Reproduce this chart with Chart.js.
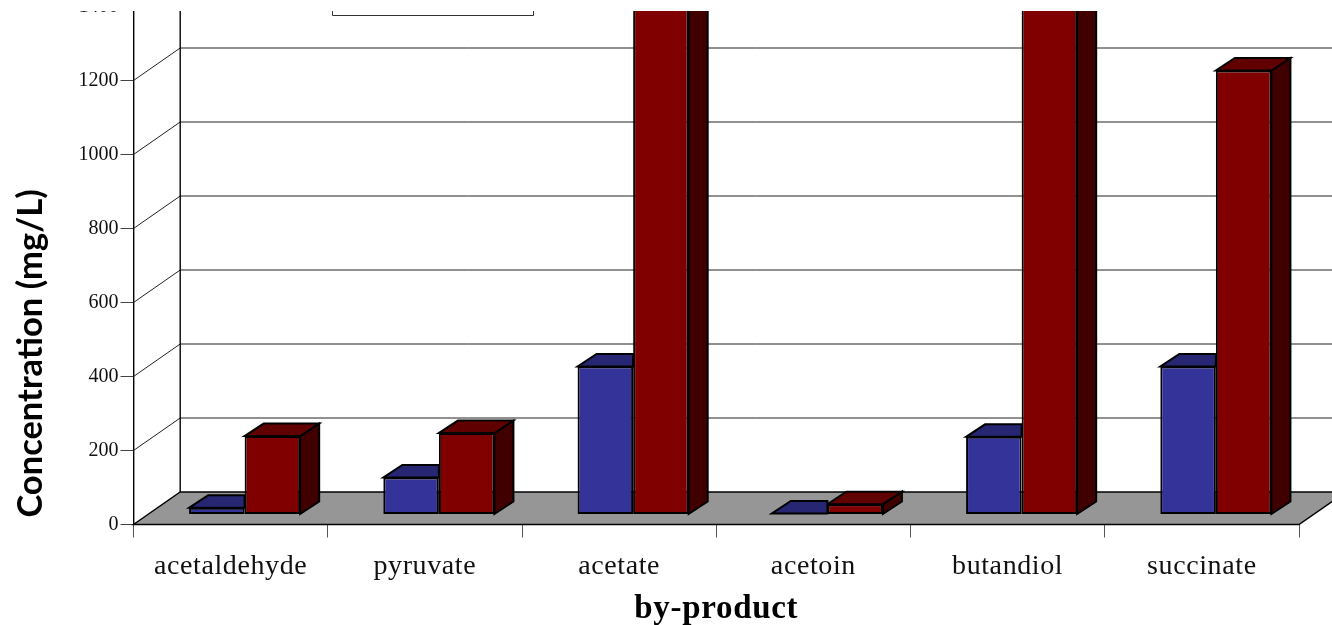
<!DOCTYPE html>
<html>
<head>
<meta charset="utf-8">
<style>
  html, body { margin: 0; padding: 0; background: #fff; }
  #wrap { width: 1332px; height: 625px; overflow: hidden; }
</style>
<script src="https://cdn.jsdelivr.net/npm/chart.js@4/dist/chart.umd.min.js"></script>
</head>
<body>
<div id="wrap"><canvas id="chart" width="1332" height="625"></canvas></div>
<script>
const categories = ['acetaldehyde', 'pyruvate', 'acetate', 'acetoin', 'butandiol', 'succinate'];
const blueValues = [18, 100, 400, 3, 210, 400];
const redValues = [212, 220, 1500, 28, 1500, 1200];
const yTicks = { min: 0, max: 1400, step: 200 };

// Oblique projection used for the box: wall offset and bar placement inside it.
const wall = { dx: 46.7, dy: -32.5 };
const barShift = { dx: 14, dy: -10 };
const barDepth = { dx: 19, dy: -12.5 };
const cropTop = 11;

const shade = {
  0: { front: '#333399', top: '#262673' },
  1: { front: '#800000', top: '#600000', side: '#400000' }
};

function poly(ctx, pts, fill) {
  ctx.beginPath();
  pts.forEach((p, i) => i ? ctx.lineTo(p[0], p[1]) : ctx.moveTo(p[0], p[1]));
  ctx.closePath();
  ctx.fillStyle = fill;
  ctx.fill();
  ctx.stroke();
}

const box3d = {
  id: 'box3d',
  // Floor, back wall and the slanted gridlines behind the bars.
  beforeDatasetsDraw(chart) {
    const { ctx, chartArea: a, scales: { y } } = chart;
    const y0 = y.getPixelForValue(0);
    ctx.save();
    ctx.lineWidth = 1;
    ctx.strokeStyle = '#222';
    y.ticks.forEach(t => {
      if (t.value === 0) return;
      const py = y.getPixelForValue(t.value);
      ctx.beginPath();
      ctx.moveTo(a.left, py);
      ctx.lineTo(a.left + wall.dx, py + wall.dy);
      ctx.lineTo(a.right + wall.dx, py + wall.dy);
      ctx.stroke();
    });
    ctx.strokeStyle = '#000';
    ctx.lineWidth = 1.4;
    poly(ctx, [
      [a.left, y0], [a.right, y0],
      [a.right + wall.dx, y0 + wall.dy], [a.left + wall.dx, y0 + wall.dy]
    ], '#969696');
    ctx.beginPath();
    ctx.moveTo(a.left + wall.dx, 0);
    ctx.lineTo(a.left + wall.dx, y0 + wall.dy);
    ctx.stroke();
    ctx.restore();
  },
  // Each series is drawn slid back into the box, with its top and side faces first.
  // The first series sits in front of nothing: its faces stop at the neighbouring bar.
  beforeDatasetDraw(chart, args) {
    const { ctx } = chart;
    ctx.save();
    ctx.translate(barShift.dx, barShift.dy);
    ctx.lineWidth = 2;
    ctx.strokeStyle = '#000';
    const c = shade[args.index];
    args.meta.data.forEach(bar => {
      const l = bar.x - bar.width / 2;
      const r = bar.x + bar.width / 2;
      const t = bar.y, b = bar.base;
      const d = barDepth;
      if (args.index === 0) {
        poly(ctx, [[l, t], [r, t], [r, t + d.dy], [l + d.dx, t + d.dy]], c.top);
      } else {
        poly(ctx, [[r, t], [r + d.dx, t + d.dy], [r + d.dx, b + d.dy], [r, b]], c.side);
        poly(ctx, [[l, t], [r, t], [r + d.dx, t + d.dy], [l + d.dx, t + d.dy]], c.top);
      }
    });
  },
  afterDatasetDraw(chart) {
    chart.ctx.restore();
  },
  // The figure is cut off along the top edge; the legend frame pokes out just below it.
  afterDraw(chart) {
    const { ctx } = chart;
    ctx.save();
    ctx.fillStyle = '#fff';
    ctx.fillRect(0, 0, chart.width, cropTop);
    ctx.strokeStyle = '#333';
    ctx.lineWidth = 1;
    ctx.beginPath();
    ctx.moveTo(332.5, cropTop);
    ctx.lineTo(332.5, 15.5);
    ctx.lineTo(533.5, 15.5);
    ctx.lineTo(533.5, cropTop);
    ctx.stroke();
    ctx.restore();
  }
};

// Wraps a scale's text drawing to add letter spacing and a small offset.
function adjustText(scale, method, spacing, dx, dy) {
  const original = Object.getPrototypeOf(scale)[method];
  scale[method] = function (...args) {
    const ctx = this.ctx;
    ctx.save();
    ctx.translate(dx, dy);
    ctx.letterSpacing = spacing;
    original.apply(this, args);
    ctx.restore();
  };
}

new Chart(document.getElementById('chart'), {
  type: 'bar',
  plugins: [box3d],
  data: {
    labels: categories,
    datasets: [
      { data: blueValues, backgroundColor: shade[0].front },
      { data: redValues, backgroundColor: shade[1].front }
    ]
  },
  options: {
    responsive: false,
    animation: false,
    layout: { padding: { top: 6.5, right: 33, left: 0, bottom: 0 } },
    plugins: { legend: { display: false }, title: { display: false }, tooltip: { enabled: false } },
    datasets: {
      bar: {
        categoryPercentage: 0.572,
        barPercentage: 1,
        borderColor: '#000',
        borderWidth: 2,
        borderSkipped: false
      }
    },
    scales: {
      x: {
        grid: { drawOnChartArea: false, drawTicks: true, tickLength: 13, color: '#555', offset: true },
        border: { display: false },
        ticks: {
          padding: 12,
          color: '#111',
          maxRotation: 0,
          font: { family: '"Liberation Serif"', size: 28 }
        },
        title: {
          display: true,
          text: 'by-product',
          color: '#000',
          padding: { top: 0, bottom: 0 },
          font: { family: '"Liberation Serif"', size: 33, weight: 'bold' }
        },
        afterFit(scale) { scale.height = 100.5; },
        afterUpdate(scale) {
          if (!scale.hasOwnProperty('drawLabels')) {
            adjustText(scale, 'drawLabels', '0.6px', 0, 0);
            adjustText(scale, 'drawTitle', '0.7px', 0, 4);
          }
        }
      },
      y: {
        min: yTicks.min,
        max: yTicks.max,
        ticks: {
          stepSize: yTicks.step,
          padding: 2,
          color: '#111',
          callback: v => String(v),
          font: { family: '"Liberation Serif"', size: 20 }
        },
        grid: { drawOnChartArea: false, drawTicks: true, tickLength: 13, color: '#444' },
        border: { display: true, color: '#000', width: 1.4 },
        title: {
          display: true,
          text: 'Concentration (mg/L)',
          color: '#000',
          padding: { top: 10, bottom: 0 },
          font: { family: 'Lato', size: 34.5, weight: 'bold' }
        },
        afterFit(scale) {
          scale.width = 133.5;
          scale.paddingTop = 0;
        },
        afterUpdate(scale) {
          if (!scale.hasOwnProperty('drawTitle')) {
            adjustText(scale, 'drawTitle', '0px', 0, 88);
          }
        }
      }
    }
  }
});
</script>
</body>
</html>
